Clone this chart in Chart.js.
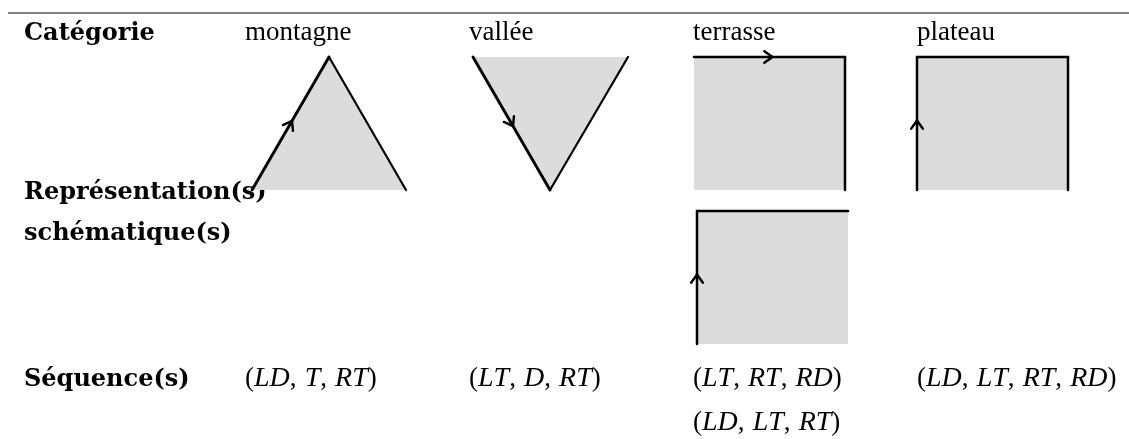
<!DOCTYPE html>
<html>
<head>
<meta charset="utf-8">
<script src="https://cdn.jsdelivr.net/npm/chart.js@4/dist/chart.umd.min.js"></script>
<style>
  html, body { margin: 0; padding: 0; background: #fff; }
  canvas { display: block; }
</style>
</head>
<body>
<canvas id="figure" width="1129" height="439"></canvas>
<script>
const rowLabels = [['Catégorie'], ['Représentation(s)', 'schématique(s)'], ['Séquence(s)']];
const categories = ['montagne', 'vallée', 'terrasse', 'plateau'];
const sequences = [['(LD, T, RT)'], ['(LT, D, RT)'], ['(LT, RT, RD)', '(LD, LT, RT)'], ['(LD, LT, RT, RD)']];

// anchors in figure units (x right, y down)
const labelX = 24;
const columnX = [245, 469, 693, 917];
const headerY = 40;
const schemaY = [199, 240];
const sequenceY = [386, 430];
const rule = [{x: 8, y: 13}, {x: 1129, y: 13}];

// schematic shapes
const montagneFill = [{x: 252, y: 190}, {x: 329, y: 57}, {x: 406, y: 190}, {x: 252, y: 190}];
const montagneArrow = [{x: 252, y: 190}, {x: 329, y: 57}];
const montagneEdge = [{x: 329, y: 57}, {x: 406, y: 190}];

const valleeFill = [{x: 473, y: 57}, {x: 628, y: 57}, {x: 550, y: 190}, {x: 473, y: 57}];
const valleeArrow = [{x: 473, y: 57}, {x: 550, y: 190}];
const valleeEdge = [{x: 550, y: 190}, {x: 628, y: 57}];

const terrasseFill = [{x: 694, y: 57}, {x: 845, y: 57}, {x: 845, y: 190}, {x: 694, y: 190}, {x: 694, y: 57}];
const terrassePath = [{x: 694, y: 57}, {x: 845, y: 57}, {x: 845, y: 190}];

const terrasse2Fill = [{x: 697, y: 211}, {x: 848, y: 211}, {x: 848, y: 344}, {x: 697, y: 344}, {x: 697, y: 211}];
const terrasse2Path = [{x: 697, y: 344}, {x: 697, y: 211}, {x: 848, y: 211}];

const plateauFill = [{x: 917, y: 57}, {x: 1068, y: 57}, {x: 1068, y: 190}, {x: 917, y: 190}, {x: 917, y: 57}];
const plateauPath = [{x: 917, y: 190}, {x: 917, y: 57}, {x: 1068, y: 57}, {x: 1068, y: 190}];

const arrowSegments = [montagneArrow, valleeArrow, terrassePath, terrasse2Path, plateauPath];

const grey = '#dcdcdc';
const regularFont = "27px 'Liberation Serif'";
const italicFont = "italic 28px 'Liberation Serif'";
const boldFont = "bold 24px 'DejaVu Serif'";

// fills sit under the strokes (higher order = drawn first)
function fillSet(data) {
    return { data, order: 2, showLine: true, fill: 'shape', backgroundColor: grey, borderWidth: 0, pointRadius: 0 };
}
function strokeSet(data, width) {
    return { data, order: 1, showLine: true, fill: false, borderColor: '#000', borderWidth: width, pointRadius: 0, borderCapStyle: 'round', borderJoinStyle: 'miter' };
}

function drawMath(ctx, str, px, py) {
    let cx = px;
    for (const ch of str) {
        if (ch === ' ') { cx += 27 * 0.3; continue; }
        ctx.font = /[A-Z]/.test(ch) ? italicFont : regularFont;
        ctx.fillText(ch, cx, py);
        cx += ctx.measureText(ch).width;
    }
}

const tableText = {
    id: 'tableText',
    beforeDatasetsDraw(chart) {
        const { ctx, scales: { x, y } } = chart;
        ctx.save();
        ctx.fillStyle = '#000';
        ctx.textBaseline = 'alphabetic';
        ctx.textAlign = 'left';
        ctx.font = boldFont;
        ctx.fillText(rowLabels[0][0], x.getPixelForValue(labelX), y.getPixelForValue(headerY));
        rowLabels[1].forEach((t, i) => ctx.fillText(t, x.getPixelForValue(labelX), y.getPixelForValue(schemaY[i])));
        ctx.fillText(rowLabels[2][0], x.getPixelForValue(labelX), y.getPixelForValue(sequenceY[0]));
        ctx.font = regularFont;
        categories.forEach((c, i) => ctx.fillText(c, x.getPixelForValue(columnX[i]), y.getPixelForValue(headerY)));
        sequences.forEach((lines, i) => {
            lines.forEach((s, j) => drawMath(ctx, s, x.getPixelForValue(columnX[i]), y.getPixelForValue(sequenceY[j])));
        });
        ctx.restore();
    }
};

const arrowHeads = {
    id: 'arrowHeads',
    afterDatasetsDraw(chart) {
        const { ctx, scales: { x, y } } = chart;
        ctx.save();
        ctx.strokeStyle = '#000';
        ctx.lineWidth = 2.5;
        ctx.lineCap = 'round';
        ctx.lineJoin = 'round';
        arrowSegments.forEach(seg => {
            const x0 = x.getPixelForValue(seg[0].x), y0 = y.getPixelForValue(seg[0].y);
            const x1 = x.getPixelForValue(seg[1].x), y1 = y.getPixelForValue(seg[1].y);
            const a = Math.atan2(y1 - y0, x1 - x0);
            const tx = (x0 + x1) / 2 + Math.cos(a) * 3;
            const ty = (y0 + y1) / 2 + Math.sin(a) * 3;
            const len = 10, spread = 0.62;
            ctx.beginPath();
            ctx.moveTo(tx - len * Math.cos(a - spread), ty - len * Math.sin(a - spread));
            ctx.lineTo(tx, ty);
            ctx.lineTo(tx - len * Math.cos(a + spread), ty - len * Math.sin(a + spread));
            ctx.stroke();
        });
        ctx.restore();
    }
};

new Chart(document.getElementById('figure'), {
    type: 'scatter',
    data: {
        datasets: [
            strokeSet(montagneArrow, 2.9),
            strokeSet(montagneEdge, 2.2),
            strokeSet(valleeArrow, 2.9),
            strokeSet(valleeEdge, 2.2),
            strokeSet(terrassePath, 2.5),
            strokeSet(terrasse2Path, 2.5),
            strokeSet(plateauPath, 2.5),
            Object.assign(strokeSet(rule, 1.3), { borderColor: '#555', borderCapStyle: 'butt' }),
            fillSet(montagneFill),
            fillSet(valleeFill),
            fillSet(terrasseFill),
            fillSet(terrasse2Fill),
            fillSet(plateauFill)
        ]
    },
    options: {
        responsive: false,
        animation: false,
        layout: { padding: 0 },
        plugins: {
            legend: { display: false },
            tooltip: { enabled: false }
        },
        scales: {
            x: { type: 'linear', min: 0, max: 1129, display: false },
            y: { type: 'linear', min: 0, max: 439, reverse: true, display: false }
        }
    },
    plugins: [tableText, arrowHeads]
});
</script>
</body>
</html>
